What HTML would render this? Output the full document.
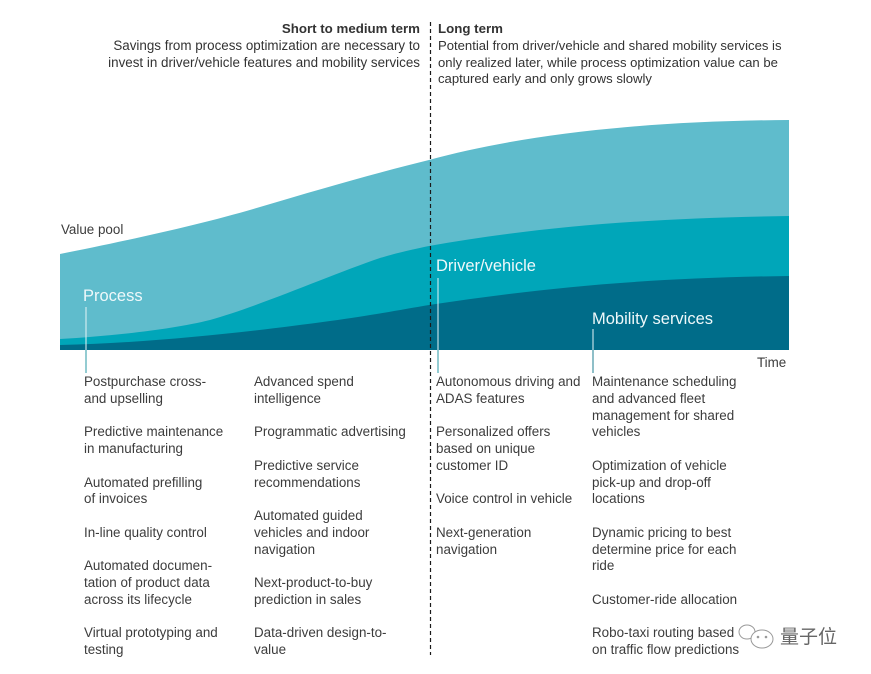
<!DOCTYPE html>
<html><head><meta charset="utf-8">
<style>
html,body{margin:0;padding:0;background:#fff;}
body{width:871px;height:674px;position:relative;overflow:hidden;font-family:"Liberation Sans",Arial,sans-serif;color:#3c3c3c;}
.t{position:absolute;white-space:pre;font-size:13.4px;line-height:16.75px;}
.h{position:absolute;white-space:pre;font-size:13.1px;line-height:16.5px;color:#333;}
.lbl{position:absolute;white-space:pre;font-size:16.5px;color:#eef8fa;}
svg{position:absolute;left:0;top:0;}
</style></head>
<body>
<svg width="871" height="674" viewBox="0 0 871 674">
  <path d="M60,254 C120,242 200,225 260,207 C320,189 380,172 429,160 C520,135 640,121 789,120 L789,350 L60,350 Z" fill="#5fbccc"/>
  <path d="M60,339 C110,336 170,330 210,320 C260,306 330,275 380,258 C400,252 415,249 429,246 C530,228 640,218 789,216 L789,350 L60,350 Z" fill="#00a6b9"/>
  <path d="M60,345 C150,343 250,332 330,321 C380,314 405,309 429,305 C530,290 630,278 789,276 L789,350 L60,350 Z" fill="#006c89"/>
  <line x1="86" y1="307" x2="86" y2="350" stroke="#e6f4f6" stroke-width="1"/>
  <line x1="86" y1="350" x2="86" y2="373" stroke="#2a9aa6" stroke-width="1"/>
  <line x1="438" y1="278" x2="438" y2="350" stroke="#e6f4f6" stroke-width="1"/>
  <line x1="438" y1="350" x2="438" y2="373" stroke="#2a9aa6" stroke-width="1"/>
  <line x1="593" y1="329" x2="593" y2="350" stroke="#e6f4f6" stroke-width="1"/>
  <line x1="593" y1="350" x2="593" y2="373" stroke="#1f7f92" stroke-width="1"/>
  <line x1="430.5" y1="22" x2="430.5" y2="655" stroke="#1a1a1a" stroke-width="1.2" stroke-dasharray="4 3"/>
  <g fill="none" stroke="#9a9a9a" stroke-width="1">
    <ellipse cx="747" cy="632" rx="8" ry="7"/>
    <ellipse cx="762" cy="639" rx="11" ry="9" fill="#fff"/>
    <circle cx="758" cy="637" r="0.8" fill="#9a9a9a"/>
    <circle cx="766" cy="637" r="0.8" fill="#9a9a9a"/>
  </g>
  <text x="780" y="643" font-family="'Liberation Sans','Noto Sans CJK SC',sans-serif" font-size="19" fill="#666">量子位</text>
</svg>

<div class="h" style="right:451px;top:21px;text-align:right;font-weight:bold;font-size:13.3px;">Short to medium term</div>
<div class="h" style="right:451px;top:38px;text-align:right;font-size:13.4px;">Savings from process optimization are necessary to
invest in driver/vehicle features and mobility services</div>
<div class="h" style="left:438px;top:21px;font-weight:bold;font-size:13.3px;">Long term</div>
<div class="h" style="left:438px;top:38px;">Potential from driver/vehicle and shared mobility services is
only realized later, while process optimization value can be
captured early and only grows slowly</div>

<div class="t" style="left:61px;top:222px;">Value pool</div>
<div class="t" style="left:757px;top:355px;">Time</div>

<div class="lbl" style="left:83px;top:287px;">Process</div>
<div class="lbl" style="left:436px;top:257px;">Driver/vehicle</div>
<div class="lbl" style="left:592px;top:310px;">Mobility services</div>

<div class="t" style="left:84px;top:374px;">Postpurchase cross-
and upselling

Predictive maintenance
in manufacturing

Automated prefilling
of invoices

In-line quality control

Automated documen-
tation of product data
across its lifecycle

Virtual prototyping and
testing</div>

<div class="t" style="left:254px;top:374px;">Advanced spend
intelligence

Programmatic advertising

Predictive service
recommendations

Automated guided
vehicles and indoor
navigation

Next-product-to-buy
prediction in sales

Data-driven design-to-
value</div>

<div class="t" style="left:436px;top:374px;">Autonomous driving and
ADAS features

Personalized offers
based on unique
customer ID

Voice control in vehicle

Next-generation
navigation</div>

<div class="t" style="left:592px;top:374px;">Maintenance scheduling
and advanced fleet
management for shared
vehicles

Optimization of vehicle
pick-up and drop-off
locations

Dynamic pricing to best
determine price for each
ride

Customer-ride allocation

Robo-taxi routing based
on traffic flow predictions</div>
</body></html>
